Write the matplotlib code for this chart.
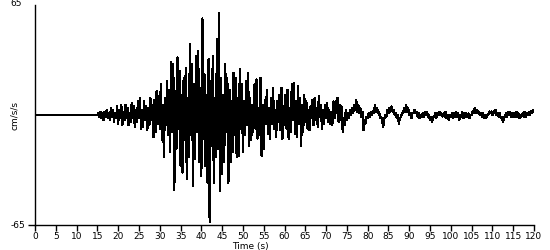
import matplotlib
matplotlib.use("Agg")
import matplotlib.pyplot as plt
import numpy as np

# sampelsteg i sekunder för avlästa värden (efter 15 s)
dt = 0.25

# accelerationsvärden (cm/s/s), 4 värden per sekund
p_fas = [0, 1, -1, 2, -2, 1, -3, 2, -1, 3, -2, 1, -3, 4, -1, 3, -4, 1, -2, 5,
         -5, 3, -2, 6, -6, 2, -3, 6, -2, 4, -6, 1, -4, 7, -2, 5, -7, 3, -4, 8,
         -2, 10, -8, 3, -7, 8, -3, 5, -9, 4, -6, 10, -3, 6, -13, 9, -10, 14, -5, 11]
s_fas = [-8, 18, -15, 6, -25, 10, -6, 20, -12, 15, -22, 31, -10, 30, -44, 14,
         -20, 34, -8, 26, -30, 12, -34, 22, -15, 28, -38, 10, -25, 42, -12, 30,
         -42, 18, -26, 35, -10, 38, -28, 16, -36, 57, -14, 24, -30, 12, -40, 33,
         -63, 20, -18, 35, -40, 10, -25, 45, -20, 60, -45, 22, -35, 12, -28, 30,
         -10, 22, -40, 15, -28, 8, -22, 25, -12, 22, -25, 10, -24, 27, -8, 18]
koda = [-22, 8, -12, 20, -6, 25, -18, 10, -15, 6, -10, 18, -8, 21, -14, 4,
        -12, 22, -24, 6, -20, 9, -5, 15, -11, 4, -14, 10, -5, 16, -8, 3,
        -13, 8, -4, 12, -9, 16, -14, 5, -6, 12, -8, 15, -14, 4, -10, 18,
        -3, 19, -11, 8, -13, 17, -5, 10, -18, 6, -10, 12, -4, 8, -8, 3,
        -9, 5, -2, 9, -6, 10, -3, 4, -7, 11, -1, 6, -8, 3, -5, 6,
        -2, 7, -4, 3, -5, 2, -6, 8, -2, 8, 1, 10, -4, 6, -3, 5, -10, -2, -6, 3]
svans = [-3, 1, -2, 3, 0, 4, 1, 6, 3, 9, 2, 6, 1, 4, -1, 2, -9, -3, -5, -1,
         -2, 1, -1, 2, 0, 2, 1, 6, 2, 4, 1, 2, -2, -1, -4, -7, -2, 0, -1, 3,
         1, 4, 2, 5, 2, 3, 0, 1, -2, 0, -5, -2, -1, 1, 1, 4, 2, 6, 2, 4,
         0, 1, -2, 1, 1, 3, 1, 2, -1, 1, -2, 0, -1, 1, -1, 2, 0, 2, -1, 0,
         -3, -1, -4, -1, -1, 1, -2, 1, 0, 2, 0, 1, -1, 1, -1, 2, -2, 0, -3, 0,
         -1, 1, -2, 1, -1, 2, -1, 1, -3, 0, -1, 2, -2, 1, -1, 1, -1, 1, -2, 0,
         0, 2, 1, 4, 1, 3, 1, 2, 0, 1, -1, 1, -2, 0, -2, 0, 0, 2, 1, 2,
         0, 2, 1, 3, 0, 1, -1, 1, -2, -1, -4, -2, -1, 1, -1, 2, 0, 2, -1, 1,
         -1, 1, -1, 2, -1, 1, -2, 0, -1, 1, -1, 2, -1, 1, 0, 2, 0, 2, 1, 3, 2]

xticks = list(range(0, 121, 5))

signal = [0] + p_fas + s_fas + koda + svans
tid = np.concatenate([[0.0], 15.0 + dt * np.arange(len(signal) - 1)])

fig = plt.figure(figsize=(5.5, 2.5), dpi=100)
ax = fig.add_axes([35 / 550, 25 / 250, 499 / 550, 220 / 250])

ax.plot(tid, signal, color='black', linewidth=0.9, antialiased=False)

ax.set_xlim(0, 120)
ax.set_ylim(-65, 65)
for s in ['top', 'right']:
    ax.spines[s].set_visible(False)
for s in ['left', 'bottom']:
    ax.spines[s].set_linewidth(1.0)
    ax.spines[s].set_color('black')

ax.set_xticks(xticks)
ax.set_xticklabels([str(v) for v in xticks], fontsize=6.5)
ax.tick_params(axis='x', length=4, width=1, pad=1)
ax.set_yticks([-65])
ax.set_yticklabels(['-65'], fontsize=6.5)
ax.tick_params(axis='y', length=5, width=1, pad=2)

fig.text(10 / 550, 1 - 4 / 250, '65', fontsize=6.5, ha='left', va='center')
fig.text(15 / 550, 1 - 115 / 250, 'cm/s/s', fontsize=6.5, rotation=90, ha='center', va='center')
fig.text(250 / 550, 1 - 246 / 250, 'Time (s)', fontsize=6.5, ha='center', va='center')

fig.savefig('out.png', dpi=100)
